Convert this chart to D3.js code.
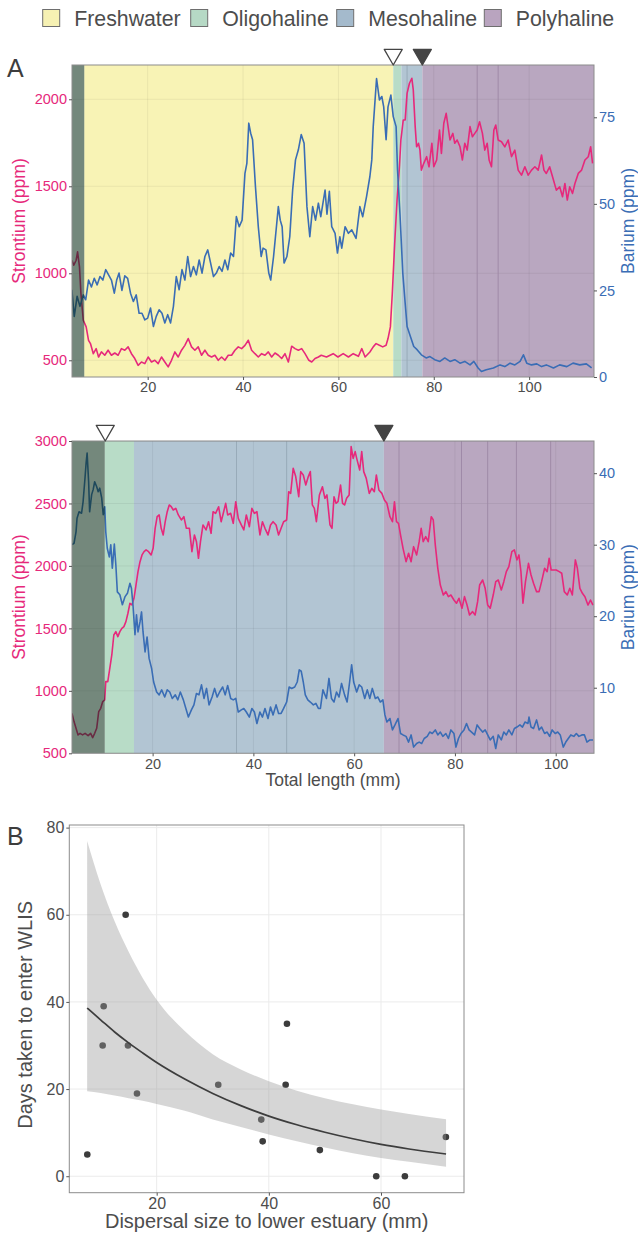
<!DOCTYPE html>
<html>
<head>
<meta charset="utf-8">
<script src="https://cdn.jsdelivr.net/npm/d3@7"></script>
<style>
  body { margin: 0; background: #fff; }
  svg { display: block; font-family: "Liberation Sans", Arial, sans-serif; }
</style>
</head>
<body>
<svg id="chart" width="638" height="1236"></svg>
<script>
// ---------- data ----------
const zoneNames = ['Freshwater', 'Oligohaline', 'Mesohaline', 'Polyhaline'];
const zoneKeys = ['fresh', 'oligo', 'meso', 'poly'];

// panel A (fish 1): salinity zones, start/end in mm
const zonesA = [['fresh', 6.7, 71.5], ['oligo', 71.5, 73.2], ['meso', 73.2, 77.6], ['poly', 77.6, 113.6]];
const darkA = [4.13, 6.7];
const edgesA = [74.4, 89.1, 93.5];
const markersA = [[71.5, 'open'], [77.6, 'filled']];

const srA = [[4.1,1075],[4.5,1047],[5.0,1075],[5.3,1123],[5.7,1037],[6.0,884],[6.5,730],[7.1,692],[7.6,615],[8.0,596],[8.6,538],[9.2,567],[9.7,519],[10.3,548],[11.0,529],[11.7,558],[12.4,529],[13.1,542],[13.8,529],[14.5,567],[15.2,558],[15.9,577],[16.6,538],[17.3,510],[18.0,471],[18.7,490],[19.4,481],[20.1,519],[20.8,490],[21.5,500],[22.2,481],[22.9,519],[23.6,490],[24.3,462],[25.0,500],[25.7,548],[26.4,519],[27.1,558],[27.8,586],[28.5,625],[29.2,577],[29.9,558],[30.6,577],[31.3,529],[32.0,558],[32.7,529],[33.4,519],[34.1,529],[34.8,500],[35.5,519],[36.2,500],[36.9,529],[37.6,529],[38.3,558],[39.0,577],[39.7,567],[40.4,586],[41.1,615],[41.8,558],[42.5,538],[43.2,519],[43.9,538],[44.6,529],[45.3,548],[46.0,519],[46.7,542],[47.4,529],[48.1,510],[48.8,538],[49.5,490],[50.2,581],[50.9,567],[51.6,558],[52.3,567],[53.0,538],[53.8,500],[54.4,490],[55.1,510],[55.8,519],[56.4,529],[57.5,519],[58.9,538],[59.9,519],[61.0,538],[62.1,519],[63.1,538],[64.2,523],[64.9,567],[65.6,519],[66.6,548],[67.3,577],[67.9,596],[68.6,586],[69.3,577],[70.0,586],[70.4,625],[70.9,692],[71.3,884],[71.8,1171],[72.3,1421],[72.8,1612],[73.1,1766],[73.6,1881],[74.0,1881],[74.4,2034],[74.9,2092],[75.4,2121],[75.7,2054],[76.1,1843],[76.4,1727],[76.8,1747],[77.1,1708],[77.4,1593],[77.9,1632],[78.5,1670],[79.0,1612],[79.6,1747],[80.0,1612],[80.6,1651],[81.2,1823],[81.6,1689],[82.1,1862],[82.6,1919],[83.0,1843],[83.4,1766],[84.0,1804],[84.4,1747],[84.9,1766],[85.5,1727],[86.0,1651],[86.5,1747],[87.0,1708],[87.6,1843],[88.1,1785],[88.6,1804],[89.1,1823],[89.6,1871],[90.2,1804],[90.7,1708],[91.2,1747],[91.6,1651],[92.1,1612],[92.6,1823],[93.0,1852],[93.5,1766],[94.2,1756],[94.9,1727],[95.6,1766],[96.3,1670],[97.0,1708],[97.7,1593],[98.4,1564],[99.1,1612],[99.8,1564],[100.5,1593],[101.2,1612],[101.9,1593],[102.6,1680],[103.1,1593],[103.6,1574],[104.3,1612],[105.1,1536],[105.7,1478],[106.4,1497],[107.0,1440],[107.5,1516],[108.0,1421],[108.5,1497],[109.1,1459],[109.6,1516],[110.3,1574],[111.0,1593],[111.7,1651],[112.4,1670],[112.9,1727],[113.3,1632]];

const baA = [[4.1,25.2],[4.6,17.5],[5.2,23.3],[5.8,20.4],[6.5,23.7],[7.0,22.3],[7.6,28],[8.2,26],[8.8,28.5],[9.4,26.6],[10,29],[10.6,28],[11.2,31],[11.8,29.5],[12.4,28],[13,24.2],[13.5,28],[14,30],[14.6,25],[15.2,29.2],[15.8,28.5],[16.4,24.2],[17,21.8],[17.6,23.7],[18.2,18.4],[18.8,18.4],[19.4,16.5],[20,17],[20.6,19.9],[21.2,14.6],[21.8,17.5],[22.4,19.4],[23,18.4],[23.6,15.6],[24.2,18],[24.8,15.6],[25.4,20.4],[26,29],[26.6,25.2],[27.2,31],[27.8,28],[28.4,34.8],[29,29],[29.6,31.9],[30.2,29.5],[30.8,33.8],[31.4,30],[32,34.8],[32.6,36.7],[33.2,32.9],[33.8,29],[34.4,30],[35,31.9],[35.6,30.5],[36.2,33.8],[36.8,31],[37.4,35.8],[38,34.8],[38.6,46.3],[39.2,43.4],[39.8,45.3],[40.4,58.8],[40.8,61.7],[41.2,73.3],[41.6,70.4],[42,68.5],[42.6,55],[43.2,43.4],[43.8,34.8],[44.2,37.2],[44.8,36.7],[45.4,30],[45.8,28],[46.4,34.8],[47,43.4],[47.4,49.2],[47.8,45.3],[48.2,43.4],[48.6,32.9],[49.2,34.8],[49.8,40.5],[50.4,54],[51,62.7],[51.6,65.6],[52.2,70],[52.8,67.5],[53.4,49.2],[54,40.5],[54.6,49.2],[55.2,45.3],[55.8,50.2],[56.3,46.3],[57.2,54],[57.6,47],[58.1,53.6],[58.6,43.4],[59.3,41.5],[59.8,35.8],[60.3,40.5],[60.7,37.2],[61.4,43.4],[62.1,41.5],[62.8,42.5],[63.7,40],[64.5,49.2],[65.1,46.3],[65.9,52.1],[66.6,57.9],[67,62.7],[67.3,72.3],[68,86.2],[68.6,80],[69.1,81],[69.5,78],[70,68.5],[70.4,78],[71,81.4],[71.5,75.2],[72.1,72.3],[72.4,59.8],[72.9,47.3],[73.5,30],[74,21.3],[74.4,14.6],[75.1,11.7],[75.8,8.8],[76.5,7.9],[77.4,6.4],[78.4,5.5],[79.2,5.9],[80.2,5],[81.3,4.5],[82.3,5.5],[83.4,4.5],[84.4,5],[85.5,4],[86.5,4.5],[87.6,3.5],[88.4,4.5],[89.3,2.6],[90,1.6],[91,2.1],[92.5,2.6],[93.9,3.5],[94.9,3],[96,4],[97,3.5],[98.1,4.5],[98.8,6.4],[99.5,4],[100.5,3.5],[101.6,3.8],[102.6,3],[103.6,3.5],[105.1,2.6],[106.4,3.5],[107.9,3],[109.2,4],[110.6,3.5],[112,3.8],[113.1,2.6]];

// second fish
const zonesB = [['oligo', 10.5, 16.3], ['meso', 16.3, 65.9], ['poly', 65.9, 107.6]];
const darkB = [4.0, 10.5];
const edgesB = [36.65, 46.6, 68.9, 81.3, 86.5, 92.2, 99.0];
const markersB = [[10.6, 'open'], [65.9, 'filled']];

const srB = [[4.0,820],[4.4,754],[4.8,700],[5.2,647],[5.6,660],[6.1,647],[6.6,660],[7.2,641],[7.7,660],[8.1,625],[8.5,660],[8.9,700],[9.3,834],[9.7,860],[10.1,914],[10.5,927],[10.7,1074],[11.1,1074],[11.5,1180],[11.9,1287],[12.3,1447],[12.7,1474],[13.1,1434],[13.5,1474],[13.9,1500],[14.3,1514],[14.7,1554],[15.1,1621],[15.5,1701],[15.9,1687],[16.3,1741],[16.7,1847],[17.1,1954],[17.5,2034],[17.9,2088],[18.3,2114],[18.7,2128],[19.2,2114],[19.7,2088],[20.1,2141],[20.5,2301],[20.9,2394],[21.3,2408],[21.7,2301],[22.1,2248],[22.5,2354],[22.9,2434],[23.3,2488],[23.7,2474],[24.1,2448],[24.6,2461],[25.1,2408],[25.7,2368],[26.2,2394],[26.7,2301],[27.3,2301],[27.8,2114],[28.3,2248],[28.7,2194],[29.1,2061],[29.5,2194],[30.0,2328],[30.6,2288],[31.1,2354],[31.6,2261],[32.0,2434],[32.5,2421],[33.1,2474],[33.6,2354],[34.1,2434],[34.5,2501],[34.9,2408],[35.5,2421],[36.0,2341],[36.5,2514],[37.0,2381],[37.6,2328],[38.1,2288],[38.6,2408],[39.2,2314],[39.7,2461],[40.2,2421],[40.7,2434],[41.3,2248],[41.8,2354],[42.3,2301],[42.9,2248],[43.4,2328],[43.9,2354],[44.5,2328],[45.0,2248],[45.5,2301],[46.0,2354],[46.6,2368],[47.0,2594],[47.4,2581],[47.9,2781],[48.4,2715],[49.0,2554],[49.4,2755],[49.9,2728],[50.4,2648],[50.9,2715],[51.3,2755],[51.7,2488],[52.1,2461],[52.5,2354],[53.1,2568],[53.7,2634],[54.2,2541],[54.6,2568],[55.2,2328],[55.6,2301],[56.0,2554],[56.4,2501],[56.8,2514],[57.3,2648],[57.7,2501],[58.1,2488],[58.5,2541],[59.0,2568],[59.4,2955],[59.8,2861],[60.2,2915],[60.5,2861],[61.1,2768],[61.5,2915],[61.9,2755],[62.4,2701],[63.0,2581],[63.5,2621],[64.0,2594],[64.4,2728],[64.9,2608],[65.5,2581],[66.0,2528],[66.5,2501],[67.1,2394],[67.6,2354],[68.0,2514],[68.4,2354],[68.8,2341],[69.2,2248],[69.7,2141],[70.3,2034],[70.8,2101],[71.3,2034],[71.8,2154],[72.4,2088],[72.9,2194],[73.3,2301],[73.7,2194],[74.2,2234],[74.7,2194],[75.3,2394],[75.7,2368],[76.1,2168],[76.6,1981],[77.1,1847],[77.7,1767],[78.2,1794],[78.7,1754],[79.2,1767],[79.8,1727],[80.3,1701],[80.8,1741],[81.4,1661],[81.9,1754],[82.4,1687],[82.9,1607],[83.5,1634],[84.0,1607],[84.5,1714],[84.9,1847],[85.5,1887],[86.0,1821],[86.5,1687],[87.0,1661],[87.6,1767],[88.1,1874],[88.6,1887],[89.2,1807],[89.7,1874],[90.2,1954],[90.7,1994],[91.3,2114],[91.8,2128],[92.3,2048],[92.7,2088],[93.1,1954],[93.5,1701],[94.0,1874],[94.6,2021],[95.1,1927],[95.6,1861],[96.2,1794],[96.7,1794],[97.2,1874],[97.8,1981],[98.3,1954],[98.7,2061],[99.1,1967],[99.6,1967],[100.1,1967],[100.7,1954],[101.2,1941],[101.7,1794],[102.3,1767],[102.8,1821],[103.3,1767],[103.9,2048],[104.3,1981],[104.8,1821],[105.3,1781],[105.8,1754],[106.4,1687],[106.9,1727],[107.4,1687]];

const baB = [[4.0,30.0],[4.4,30.2],[4.8,31.8],[5.0,33.7],[5.4,34.6],[5.9,34.4],[6.2,36],[6.6,39.5],[6.8,41.4],[7.0,42.8],[7.3,38.8],[7.5,34.6],[7.9,37],[8.2,37.7],[8.5,38.8],[8.9,38.1],[9.2,37.4],[9.5,37.9],[9.9,36.5],[10.2,34.2],[10.5,35.3],[10.7,31.8],[11.0,29.5],[11.4,28.3],[11.7,30],[12.0,26.7],[12.4,30.1],[12.7,27.2],[13.0,23.4],[13.5,23],[14.0,21.6],[14.5,22.7],[15.0,23.2],[15.5,24.6],[15.8,23.9],[16.1,21.6],[16.5,17.4],[16.8,20.2],[17.1,17.8],[17.5,19.2],[17.8,20.6],[18.1,17.8],[18.5,15],[18.9,17.1],[19.3,14.1],[19.8,12.7],[20.2,10.8],[20.8,9.4],[21.3,9],[21.8,9.7],[22.4,8.7],[22.9,9.7],[23.4,9.4],[23.9,8.5],[24.5,9],[25.0,8.3],[25.5,9.4],[26.1,8.3],[26.6,7.1],[27.1,5.9],[27.7,6.9],[28.2,7.6],[28.7,9.2],[29.2,9],[29.7,10.4],[30.2,8.5],[30.7,9.9],[31.2,7.6],[31.8,8.7],[32.3,9.9],[32.8,8.7],[33.3,9.4],[33.9,10.1],[34.4,9],[34.9,10.3],[35.5,8.5],[36.0,8.3],[36.5,8.5],[37.0,6.6],[37.6,6.9],[38.1,7.1],[38.6,6.6],[39.2,5.9],[39.7,7.1],[40.2,6.6],[40.7,5],[41.3,6.6],[41.8,5.9],[42.3,7.1],[42.9,5.7],[43.4,7.3],[43.9,6.2],[44.5,7.6],[45.0,6.4],[45.5,6.4],[46.0,7.1],[46.6,8],[47.1,10.1],[47.6,9.9],[48.2,10.1],[48.7,10.8],[49.1,12.5],[49.5,12.3],[49.9,10.8],[50.3,9],[50.8,8.3],[51.3,8],[51.9,7.6],[52.4,7.8],[52.9,7.1],[53.3,7.1],[53.8,9.7],[54.5,8.5],[55.0,11.3],[55.5,8.5],[56.0,8],[56.5,9.4],[57.0,8.7],[57.5,10.6],[58.1,9],[58.6,8],[59.1,10.8],[59.5,13.2],[59.9,10.8],[60.5,9.4],[61.0,10.4],[61.5,10.1],[62.1,8.5],[62.6,9.7],[63.1,8.5],[63.6,9.9],[64.2,8.5],[64.7,8.7],[65.2,8],[65.7,8.3],[66.1,6.2],[66.5,5.2],[67.1,5.7],[67.6,4.1],[68.1,4.8],[68.7,5.7],[69.2,3.6],[69.7,3.4],[70.3,3.2],[70.8,2.4],[71.3,3.4],[71.8,1.7],[72.4,2.2],[72.9,2.4],[73.4,2.2],[73.9,2.9],[74.5,3.2],[75.0,3.8],[75.5,3.6],[76.1,4.1],[76.6,3.4],[77.1,3.8],[77.6,3.2],[78.2,3.6],[78.7,2.9],[79.2,4.1],[79.8,3.6],[80.2,1.7],[80.7,2.9],[81.2,3.6],[81.8,4.1],[82.3,5],[82.8,4.1],[83.3,3.8],[83.9,3.4],[84.4,4.8],[84.9,4.3],[85.5,3.8],[86.0,4.1],[86.5,3.4],[87.0,2.7],[87.6,3.2],[88.1,1.5],[88.6,3.4],[89.2,2.7],[89.7,3.8],[90.2,3.4],[90.7,4.1],[91.3,3.4],[91.8,4.3],[92.3,4.5],[92.9,4.8],[93.4,4.5],[93.9,5.2],[94.5,5],[94.7,5.9],[95.1,4.5],[95.6,4.3],[96.2,5.5],[96.7,4.1],[97.2,4.5],[97.8,3.6],[98.3,3.8],[98.8,3.2],[99.3,4.1],[99.9,3.6],[100.4,3.8],[100.9,3.4],[101.5,1.7],[102.0,2.4],[102.5,2.9],[103.0,3.4],[103.6,3.2],[104.1,3.6],[104.6,3.2],[105.2,3.4],[105.7,3.4],[106.2,2.4],[106.8,2.7],[107.4,2.7]];

// panel B: dispersal size vs days
const dispSize = [7.63, 10.37, 10.55, 14.47, 14.88, 16.49, 30.98, 38.65, 38.9, 43.0, 43.23, 49.1, 59.15, 64.26, 71.57];
const dispDays = [5, 30, 39, 60, 30, 19, 21, 13, 8, 21, 35, 6, 0, 0, 9];
const fitSize = [7.6, 10, 12.5, 15, 17.5, 20, 25, 30, 35, 40, 45, 50, 55, 60, 65, 71.6];
const fitDays = [38.6, 35.9, 33.1, 30.6, 28.3, 26.1, 22.3, 19.0, 16.2, 13.8, 11.8, 10.1, 8.6, 7.3, 6.25, 5.1];
const fitHigh = [76.9, 67, 58.5, 51.5, 45.5, 40.5, 33.3, 28, 24.5, 21.8, 19.6, 17.9, 16.5, 15.3, 14.3, 13.1];
const fitLow = [19.5, 19.1, 18.5, 17.9, 17.3, 16.6, 15.0, 13.0, 11.3, 9.6, 8.0, 6.6, 5.3, 4.2, 3.3, 2.2];

const lengthTicks = [20, 40, 60, 80, 100];
const srTicksA = [500, 1000, 1500, 2000];
const baTicksA = [0, 25, 50, 75];
const srTicksB = [500, 1000, 1500, 2000, 2500, 3000];
const baTicksB = [10, 20, 30, 40];
const sizeTicks = [20, 40, 60];
const dayTicks = [0, 20, 40, 60, 80];

// ---------- styles ----------
const zoneColor = d3.scaleOrdinal().domain(zoneKeys).range(['#f8f3b5', '#b8dcc7', '#b2c5d3', '#b9a7c0']);
const legendColor = d3.scaleOrdinal().domain(zoneKeys).range(['#f6f1b3', '#b6d9c5', '#a4bacc', '#b9a4bf']);
const edgeColor = d3.scaleOrdinal().domain(zoneKeys).range(['#ddd69a', '#9fc3ae', '#98abb9', '#9f8aa7']);
const srColor = '#e6297b';
const baColor = '#3a6db5';
const textGrey = '#4d4d4d';
const fmt = d3.format('d');

const svg = d3.select('#chart');

// ---------- legend ----------
const legendX = [42.7, 190.7, 336.7, 484.3];
const legend = svg.append('g');
zoneKeys.forEach((k, i) => {
  legend.append('rect')
    .attr('x', legendX[i]).attr('y', 9.5)
    .attr('width', 17).attr('height', 17)
    .attr('fill', legendColor(k))
    .attr('stroke', '#6e6e6e').attr('stroke-width', 1);
  legend.append('text')
    .attr('x', legendX[i] + 31.5).attr('y', 25.5)
    .attr('fill', textGrey)
    .style('font-size', '21.3px')
    .text(zoneNames[i]);
});

function styleAxis(g, color, size) {
  g.attr('font-size', null).attr('font-family', null);
  g.select('.domain').remove();
  g.selectAll('.tick line').attr('stroke', '#555');
  g.selectAll('.tick text').attr('fill', color).style('font-size', size + 'px');
}

// ---------- element profile panel ----------
function drawProfile(p) {
  const left = 72, right = 594;
  const x = d3.scaleLinear().domain(p.xDomain).range([left, right]);
  const ySr = d3.scaleLinear().domain(p.srDomain).range([p.bottom, p.top]);
  const yBa = d3.scaleLinear().domain(p.baDomain).range([p.bottom, p.top]);

  const clipId = 'clip' + p.id;
  svg.append('clipPath').attr('id', clipId)
    .append('rect').attr('x', left).attr('y', p.top)
    .attr('width', right - left).attr('height', p.bottom - p.top);

  const g = svg.append('g');
  const inner = g.append('g').attr('clip-path', `url(#${clipId})`);

  inner.append('rect')
    .attr('x', left).attr('y', p.top)
    .attr('width', right - left).attr('height', p.bottom - p.top)
    .attr('fill', '#fff');

  inner.selectAll('.zone')
    .data(p.zones)
    .join('rect')
    .attr('x', d => x(d[1]))
    .attr('width', d => x(d[2]) - x(d[1]))
    .attr('y', p.top).attr('height', p.bottom - p.top)
    .attr('fill', d => zoneColor(d[0]));

  // grid
  inner.selectAll('.vgrid')
    .data(lengthTicks)
    .join('line')
    .attr('x1', d => x(d)).attr('x2', d => x(d))
    .attr('y1', p.top).attr('y2', p.bottom)
    .attr('stroke', '#000').attr('stroke-opacity', 0.06);
  inner.selectAll('.hgrid')
    .data(p.srTicks)
    .join('line')
    .attr('x1', left).attr('x2', right)
    .attr('y1', d => ySr(d)).attr('y2', d => ySr(d))
    .attr('stroke', '#000').attr('stroke-opacity', 0.06);

  // sample edges within zones
  const zoneOf = mm => (p.zones.find(z => mm >= z[1] && mm <= z[2]) || p.zones[0])[0];
  inner.selectAll('.edge')
    .data(p.edges)
    .join('line')
    .attr('x1', d => x(d)).attr('x2', d => x(d))
    .attr('y1', p.top).attr('y2', p.bottom)
    .attr('stroke', d => edgeColor(zoneOf(d))).attr('stroke-width', 1);

  const line = yScale => d3.line().x(d => x(d[0])).y(d => yScale(d[1]));

  inner.append('path')
    .attr('d', line(ySr)(p.sr))
    .attr('fill', 'none').attr('stroke', srColor).attr('stroke-width', 1.6)
    .attr('stroke-linejoin', 'round');
  inner.append('path')
    .attr('d', line(yBa)(p.ba))
    .attr('fill', 'none').attr('stroke', baColor).attr('stroke-width', 1.6)
    .attr('stroke-linejoin', 'round');

  // dark section before the first zone
  inner.append('rect')
    .attr('x', x(p.dark[0])).attr('width', x(p.dark[1]) - x(p.dark[0]))
    .attr('y', p.top).attr('height', p.bottom - p.top)
    .attr('fill', '#0a2d19').attr('fill-opacity', 0.57);

  g.append('rect')
    .attr('x', left).attr('y', p.top)
    .attr('width', right - left).attr('height', p.bottom - p.top)
    .attr('fill', 'none').attr('stroke', '#8c8c8c').attr('stroke-width', 1);

  // axes
  g.append('g')
    .attr('transform', `translate(0,${p.bottom})`)
    .call(d3.axisBottom(x).tickValues(lengthTicks).tickFormat(fmt).tickSize(3).tickPadding(2))
    .call(a => styleAxis(a, textGrey, 14.5));
  g.append('g')
    .attr('transform', `translate(${left},0)`)
    .call(d3.axisLeft(ySr).tickValues(p.srTicks).tickFormat(fmt).tickSize(3).tickPadding(2))
    .call(a => styleAxis(a, srColor, 14.5));
  g.append('g')
    .attr('transform', `translate(${right},0)`)
    .call(d3.axisRight(yBa).tickValues(p.baTicks).tickFormat(fmt).tickSize(3).tickPadding(2))
    .call(a => styleAxis(a, baColor, 14.5));

  const midY = (p.top + p.bottom) / 2;
  g.append('text')
    .attr('transform', `translate(25,${midY}) rotate(-90)`)
    .attr('text-anchor', 'middle').attr('fill', srColor)
    .style('font-size', '17.5px').text('Strontium (ppm)');
  g.append('text')
    .attr('transform', `translate(634,${midY}) rotate(-90)`)
    .attr('text-anchor', 'middle').attr('fill', baColor)
    .style('font-size', '17.5px').text('Barium (ppm)');

  // entry markers
  g.selectAll('.marker')
    .data(p.markers)
    .join('path')
    .attr('d', d3.symbol(d3.symbolTriangle, 140))
    .attr('transform', d => `translate(${x(d[0])},${p.top - 10.4}) rotate(180)`)
    .attr('fill', d => d[1] === 'open' ? '#fff' : '#444')
    .attr('stroke', '#444').attr('stroke-width', 1.3)
    .attr('stroke-linejoin', 'round');

  if (p.xTitle) {
    g.append('text')
      .attr('x', (left + right) / 2).attr('y', p.bottom + 33)
      .attr('text-anchor', 'middle').attr('fill', textGrey)
      .style('font-size', '17.5px').text(p.xTitle);
  }
}

drawProfile({
  id: 'A', top: 65, bottom: 377,
  xDomain: [4.13, 113.6], srDomain: [404, 2197], baDomain: [0, 90.1],
  srTicks: srTicksA, baTicks: baTicksA,
  zones: zonesA, dark: darkA, edges: edgesA, markers: markersA,
  sr: srA, ba: baA
});

drawProfile({
  id: 'B', top: 441, bottom: 753.3,
  xDomain: [4.0, 107.6], srDomain: [500, 3000], baDomain: [0.83, 44.5],
  srTicks: srTicksB, baTicks: baTicksB,
  zones: zonesB, dark: darkB, edges: edgesB, markers: markersB,
  sr: srB, ba: baB, xTitle: 'Total length (mm)'
});

svg.append('text').attr('x', 7).attr('y', 77)
  .attr('fill', '#3d3d3d').style('font-size', '25px').text('A');

// ---------- panel B ----------
{
  const left = 69.3, right = 464, top = 825, bottom = 1192.7;
  const x = d3.scaleLinear().domain([4.42, 74.8]).range([left, right]);
  const y = d3.scaleLinear().domain([-3.78, 80.6]).range([bottom, top]);
  const g = svg.append('g');

  g.append('g').selectAll('line')
    .data(sizeTicks)
    .join('line')
    .attr('x1', d => x(d)).attr('x2', d => x(d))
    .attr('y1', top).attr('y2', bottom)
    .attr('stroke', '#ebebeb');
  g.append('g').selectAll('line')
    .data(dayTicks)
    .join('line')
    .attr('x1', left).attr('x2', right)
    .attr('y1', d => y(d)).attr('y2', d => y(d))
    .attr('stroke', '#ebebeb');

  g.selectAll('.pt')
    .data(dispSize.map((s, i) => [s, dispDays[i]]))
    .join('circle')
    .attr('cx', d => x(d[0])).attr('cy', d => y(d[1]))
    .attr('r', 3.3).attr('fill', '#3c3c3c');

  const fit = fitSize.map((s, i) => ({ s, m: fitDays[i], hi: fitHigh[i], lo: fitLow[i] }));
  g.append('path')
    .attr('d', d3.area().curve(d3.curveMonotoneX)
      .x(d => x(d.s)).y0(d => y(d.lo)).y1(d => y(d.hi))(fit))
    .attr('fill', '#999').attr('fill-opacity', 0.4);
  g.append('path')
    .attr('d', d3.line().curve(d3.curveMonotoneX)
      .x(d => x(d.s)).y(d => y(d.m))(fit))
    .attr('fill', 'none').attr('stroke', '#3d3d3d').attr('stroke-width', 1.7);

  g.append('rect')
    .attr('x', left).attr('y', top)
    .attr('width', right - left).attr('height', bottom - top)
    .attr('fill', 'none').attr('stroke', '#8c8c8c');

  g.append('g')
    .attr('transform', `translate(0,${bottom})`)
    .call(d3.axisBottom(x).tickValues(sizeTicks).tickFormat(fmt).tickSize(3).tickPadding(2))
    .call(a => styleAxis(a, textGrey, 16));
  g.append('g')
    .attr('transform', `translate(${left},0)`)
    .call(d3.axisLeft(y).tickValues(dayTicks).tickFormat(fmt).tickSize(3).tickPadding(2))
    .call(a => styleAxis(a, textGrey, 16));

  g.append('text')
    .attr('x', (left + right) / 2).attr('y', 1228)
    .attr('text-anchor', 'middle').attr('fill', textGrey)
    .style('font-size', '20px').text('Dispersal size to lower estuary (mm)');
  g.append('text')
    .attr('transform', `translate(31.5,${(top + bottom) / 2 + 6}) rotate(-90)`)
    .attr('text-anchor', 'middle').attr('fill', textGrey)
    .style('font-size', '20px').text('Days taken to enter WLIS');

  svg.append('text').attr('x', 7).attr('y', 845)
    .attr('fill', '#3d3d3d').style('font-size', '25px').text('B');
}
</script>
</body>
</html>
